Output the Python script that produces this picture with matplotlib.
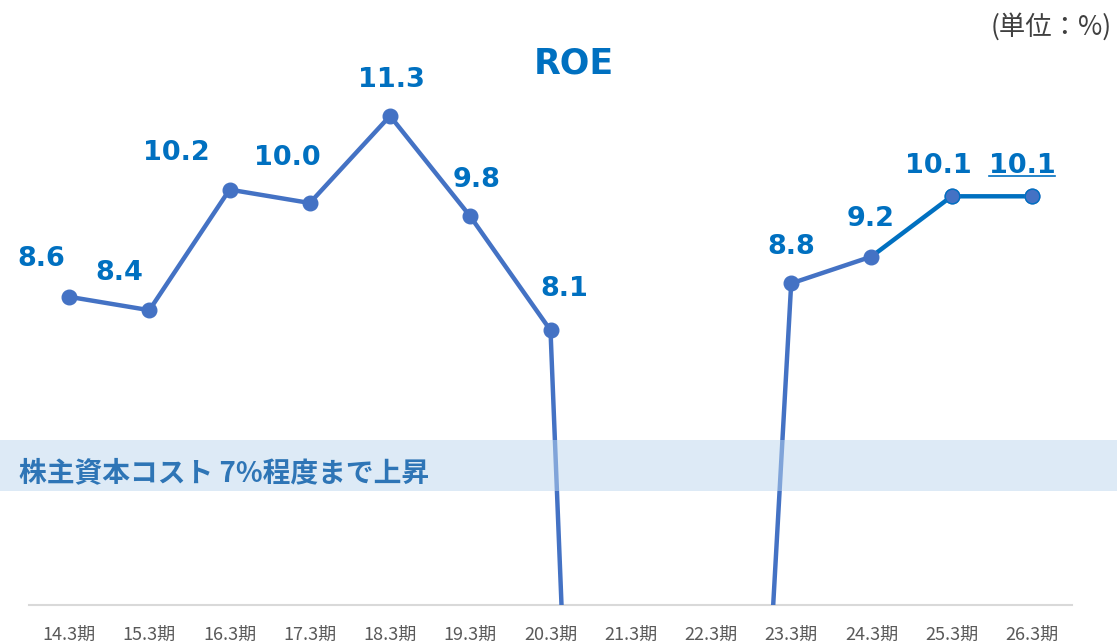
import matplotlib
matplotlib.use("Agg")
import matplotlib.pyplot as plt
from matplotlib.patches import Rectangle
from matplotlib.lines import Line2D
import matplotlib.transforms as mtransforms

plt.rcParams['font.family'] = ['Noto Sans CJK JP', 'DejaVu Sans']

# ---- data ----
periods = ["14.3期", "15.3期", "16.3期", "17.3期", "18.3期", "19.3期", "20.3期",
           "21.3期", "22.3期", "23.3期", "24.3期", "25.3期", "26.3期"]
roe = [8.6, 8.4, 10.2, 10.0, 11.3, 9.8, 8.1, -21.8, -12.6, 8.8, 9.2, 10.1, 10.1]
show_label = [True, True, True, True, True, True, True, False, False, True, True, True, True]
forecast_start = 10  # dark segment from 24.3期 onward
band_low, band_high = 5.70, 6.46
band_text = "株主資本コスト 7%程度まで上昇"
# label offsets in pixels (dx, baseline distance above point)
label_dx = [-28, -30, -53, -22, 1, 6, 14, 0, 0, 0, -1, -13, -10]
label_dy = [31, 30, 30, 38, 29, 29, 34, 0, 0, 29, 31, 23, 23]

W, H = 1117, 644
fig = plt.figure(figsize=(W / 100, H / 100), dpi=100)
ax = fig.add_axes([29 / W, (H - 605) / H, (1072 - 29) / W, 605 / H])
ax.set_xlim(-0.5, 12.5)
ax.set_ylim(4.0, 4.0 + 605 / 67.0)

line_c = "#4472C4"
dark_c = "#0070C0"
lbl_c = "#0070C0"

x = list(range(len(periods)))
ax.plot(x[:forecast_start + 1], roe[:forecast_start + 1], color=line_c, lw=3.2,
        solid_capstyle='round', zorder=3)
ax.plot(x[forecast_start:], roe[forecast_start:], color=dark_c, lw=3.2,
        solid_capstyle='round', zorder=3)
ax.plot(x, roe, linestyle='none', marker='o', ms=10.5, mfc=line_c,
        mec=line_c, zorder=4)
ax.plot(x[forecast_start + 1:], roe[forecast_start + 1:], linestyle='none',
        marker='o', ms=10.5, mfc=line_c, mec=dark_c, mew=1.0, zorder=4)

texts = []
for i, v in enumerate(roe):
    if not show_label[i]:
        continue
    t = ax.annotate(f"{v:.1f}", xy=(i, v), xytext=(label_dx[i], label_dy[i]),
                    textcoords='offset pixels', ha='center', va='baseline',
                    fontsize=19.5, fontweight='bold', color=lbl_c,
                    family='DejaVu Sans', zorder=6, annotation_clip=False)
    texts.append((i, t))

# band (semi-transparent, drawn over the line)
trans = mtransforms.blended_transform_factory(fig.transFigure, ax.transData)
ax.add_patch(Rectangle((0, band_low), 1, band_high - band_low, transform=trans,
                       facecolor="#BDD7EE", alpha=0.5, edgecolor='none',
                       clip_on=False, zorder=5))
fig.text(19 / W, 1 - 481 / H, band_text, fontsize=20, fontweight='bold',
         color="#2E75B6", ha='left', va='baseline', zorder=7)

# axes styling
for s in ['top', 'right', 'left']:
    ax.spines[s].set_visible(False)
ax.spines['bottom'].set_color("#D9D9D9")
ax.spines['bottom'].set_linewidth(1.5)
ax.set_yticks([])
ax.set_xticks(x)
ax.set_xticklabels(periods, fontsize=13, color="#595959")
ax.tick_params(axis='x', length=0, pad=15)

# title and unit
fig.text(574 / W, 1 - 73 / H, "ROE", fontsize=25, fontweight='bold',
         color=lbl_c, ha='center', va='baseline', family='DejaVu Sans')
fig.text(1112 / W, 1 - 27 / H, "(単位：%)", fontsize=19, color="#404040",
         ha='right', va='center')

# underline last label
fig.canvas.draw()
renderer = fig.canvas.get_renderer()
i_last, t_last = texts[-1]
bb = t_last.get_window_extent(renderer)
inv = fig.transFigure.inverted()
(x0, y0), (x1, y1) = inv.transform([(bb.x0, 0), (bb.x1, 0)])
ybase = 1 - 176 / H
fig.add_artist(Line2D([x0, x1], [ybase, ybase], color=lbl_c, lw=1.2,
                      transform=fig.transFigure))

fig.savefig("out.png", dpi=100)
